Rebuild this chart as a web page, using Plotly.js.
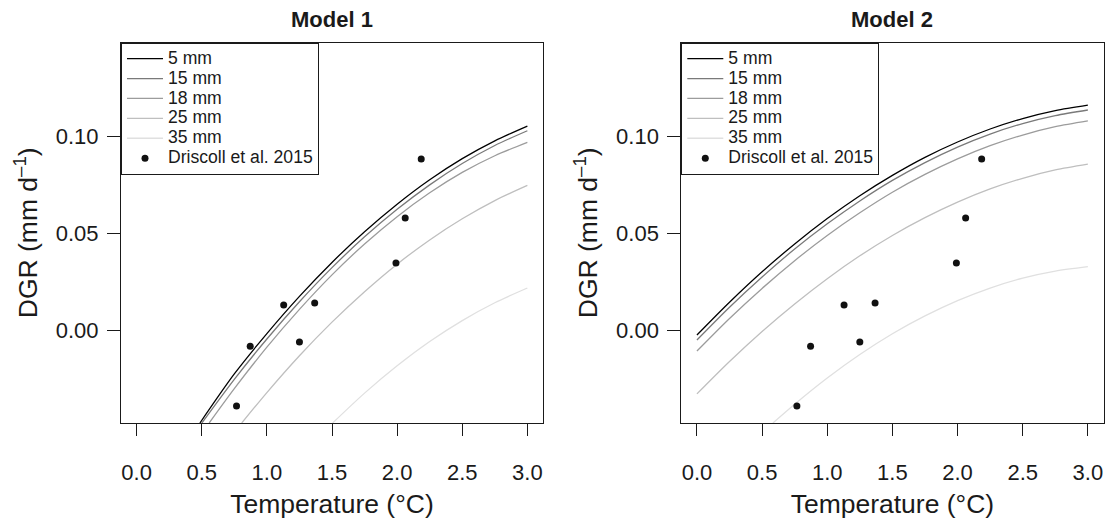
<!DOCTYPE html>
<html>
<head>
<meta charset="utf-8">
<script src="https://cdn.plot.ly/plotly-3.0.1.min.js"></script>
<style>html,body{margin:0;padding:0;background:#fff;}#chart{width:1107px;height:520px;}</style>
</head>
<body>
<div id="chart"></div>
<script>
// ---- data ----
const seriesNames = ['5 mm', '15 mm', '18 mm', '25 mm', '35 mm'];
const seriesColors = ['#000000', '#7a7a7a', '#9c9c9c', '#bfbfbf', '#e0e0e0'];
const obsName = 'Driscoll et al. 2015';

// Model 1 curves (each starts where it enters the plot at the bottom)
const m1_x_5  = [0.486, 0.75, 1.0, 1.25, 1.5, 1.75, 2.0, 2.25, 2.5, 2.75, 3.0];
const m1_y_5  = [-0.0476, -0.0223, -0.0015, 0.0177, 0.0352, 0.0510, 0.0652, 0.0778, 0.0887, 0.0979, 0.1055];
const m1_x_15 = [0.50, 0.75, 1.0, 1.25, 1.5, 1.75, 2.0, 2.25, 2.5, 2.75, 3.0];
const m1_y_15 = [-0.0477, -0.0251, -0.0043, 0.0149, 0.0325, 0.0484, 0.0626, 0.0752, 0.0862, 0.0955, 0.1031];
const m1_x_18 = [0.557, 0.75, 1.0, 1.25, 1.5, 1.75, 2.0, 2.25, 2.5, 2.75, 3.0];
const m1_y_18 = [-0.0476, -0.0299, -0.0085, 0.0110, 0.0288, 0.0447, 0.0588, 0.0711, 0.0816, 0.0902, 0.0971];
const m1_x_25 = [0.807, 1.0, 1.25, 1.5, 1.75, 2.0, 2.25, 2.5, 2.75, 3.0];
const m1_y_25 = [-0.0476, -0.0319, -0.0129, 0.0044, 0.0201, 0.0343, 0.0468, 0.0577, 0.0671, 0.0749];
const m1_x_35 = [1.505, 1.75, 2.0, 2.25, 2.5, 2.75, 3.0];
const m1_y_35 = [-0.0476, -0.0322, -0.0181, -0.0056, 0.0052, 0.0144, 0.0220];

// Model 2 curves
const m2_x    = [0, 0.25, 0.5, 0.75, 1.0, 1.25, 1.5, 1.75, 2.0, 2.25, 2.5, 2.75, 3.0];
const m2_y_5  = [-0.0022, 0.0147, 0.0304, 0.0447, 0.0578, 0.0696, 0.0801, 0.0894, 0.0973, 0.1040, 0.1094, 0.1135, 0.1163];
const m2_y_15 = [-0.0048, 0.0121, 0.0277, 0.0421, 0.0551, 0.0669, 0.0775, 0.0867, 0.0947, 0.1014, 0.1068, 0.1109, 0.1138];
const m2_y_18 = [-0.0105, 0.0063, 0.0218, 0.0361, 0.0491, 0.0608, 0.0714, 0.0806, 0.0886, 0.0954, 0.1009, 0.1052, 0.1082];
const m2_y_25 = [-0.0326, -0.0159, -0.0004, 0.0138, 0.0268, 0.0386, 0.0491, 0.0583, 0.0663, 0.0731, 0.0786, 0.0829, 0.0859];
const m2_x_35 = [0.583, 0.75, 1.0, 1.25, 1.5, 1.75, 2.0, 2.25, 2.5, 2.75, 3.0];
const m2_y_35 = [-0.0476, -0.0379, -0.0244, -0.0123, -0.0016, 0.0076, 0.0155, 0.0220, 0.0271, 0.0307, 0.0330];

// Observations (Driscoll et al. 2015)
const obsTemp = [0.767, 0.872, 1.129, 1.250, 1.367, 1.991, 2.062, 2.185];
const obsDGR  = [-0.0388, -0.0080, 0.0132, -0.0058, 0.0143, 0.0349, 0.0581, 0.0885];

// ticks
const xTickVals = [0, 0.5, 1.0, 1.5, 2.0, 2.5, 3.0];
const xTickText = ['0.0', '0.5', '1.0', '1.5', '2.0', '2.5', '3.0'];
const yTickVals = [0, 0.05, 0.10];
const yTickText = ['0.00', '0.05', '0.10'];
const panelTitles = ['Model 1', 'Model 2'];

// ---- build traces ----
const model1 = [[m1_x_5, m1_y_5], [m1_x_15, m1_y_15], [m1_x_18, m1_y_18], [m1_x_25, m1_y_25], [m1_x_35, m1_y_35]];
const model2 = [[m2_x, m2_y_5], [m2_x, m2_y_15], [m2_x, m2_y_18], [m2_x, m2_y_25], [m2_x_35, m2_y_35]];

const LEG_FS = 17.6;
function legName(s) { return '<span style="font-size:' + LEG_FS + 'px">' + s + '</span>'; }

const traces = [];
[model1, model2].forEach(function (model, p) {
  const xa = p === 0 ? 'x' : 'x2';
  const ya = p === 0 ? 'y' : 'y2';
  const lg = p === 0 ? 'legend' : 'legend2';
  model.forEach(function (xy, i) {
    traces.push({
      type: 'scatter', mode: 'lines', x: xy[0], y: xy[1],
      name: legName(seriesNames[i]), xaxis: xa, yaxis: ya, legend: lg,
      line: {color: seriesColors[i], width: 1.3, shape: 'spline', smoothing: 0.8},
      hoverinfo: 'x+y'
    });
  });
  traces.push({
    type: 'scatter', mode: 'markers', x: obsTemp, y: obsDGR,
    name: legName(obsName), xaxis: xa, yaxis: ya, legend: lg,
    marker: {color: '#111111', size: 7},
    hoverinfo: 'x+y'
  });
});

const W = 1107, H = 520;
const dom1 = [121 / W, 543 / W];
const dom2 = [681.3 / W, 1103.5 / W];
const ydom = [1 - 423 / H, 1 - 42.7 / H];
const INK = '#1a1a1a';
const FONT = 'Liberation Sans, Arial, Helvetica, sans-serif';

function xAxis(dom, yanchor) {
  return {
    domain: dom, anchor: yanchor, range: [-0.12, 3.12],
    tickmode: 'array', tickvals: xTickVals, ticktext: xTickText,
    ticks: 'outside', ticklen: 12, tickwidth: 1, tickcolor: INK,
    ticklabelstandoff: 18,
    showline: true, mirror: true, linecolor: INK, linewidth: 1,
    showgrid: false, zeroline: false,
    tickfont: {size: 22, color: INK, family: FONT},
    title: {text: 'Temperature (°C)', font: {size: 26.5, color: INK, family: FONT}, standoff: 10}
  };
}
function yAxis(dom, xanchor) {
  return {
    domain: dom, anchor: xanchor, range: [-0.0476, 0.1485],
    tickmode: 'array', tickvals: yTickVals, ticktext: yTickText,
    ticks: 'outside', ticklen: 13, tickwidth: 1, tickcolor: INK,
    ticklabelstandoff: 4,
    showline: true, mirror: true, linecolor: INK, linewidth: 1,
    showgrid: false, zeroline: false,
    tickfont: {size: 22, color: INK, family: FONT},
    title: {text: 'DGR (mm d<sup>–1</sup>)', font: {size: 26.5, color: INK, family: FONT}, standoff: 10}
  };
}
function legend(x) {
  return {
    x: x, y: ydom[1], xref: 'paper', yref: 'paper', xanchor: 'left', yanchor: 'top',
    bgcolor: '#ffffff', bordercolor: INK, borderwidth: 1,
    font: {size: 13, color: INK, family: FONT},
    itemwidth: 36, tracegroupgap: 0, traceorder: 'normal'
  };
}

const layout = {
  width: W, height: H,
  margin: {l: 0, r: 0, t: 0, b: 0},
  paper_bgcolor: '#ffffff', plot_bgcolor: '#ffffff',
  font: {family: FONT, color: INK},
  showlegend: true,
  xaxis: xAxis(dom1, 'y'),
  yaxis: yAxis(ydom, 'x'),
  xaxis2: xAxis(dom2, 'y2'),
  yaxis2: yAxis(ydom, 'x2'),
  legend: legend(dom1[0]),
  legend2: legend(dom2[0]),
  annotations: [
    {text: '<b>' + panelTitles[0] + '</b>', x: (dom1[0] + dom1[1]) / 2, y: 1 - 20 / H, xref: 'paper', yref: 'paper',
     xanchor: 'center', yanchor: 'middle', showarrow: false, font: {size: 22, color: INK, family: FONT}},
    {text: '<b>' + panelTitles[1] + '</b>', x: (dom2[0] + dom2[1]) / 2, y: 1 - 20 / H, xref: 'paper', yref: 'paper',
     xanchor: 'center', yanchor: 'middle', showarrow: false, font: {size: 22, color: INK, family: FONT}}
  ]
};

Plotly.newPlot('chart', traces, layout, {displayModeBar: false, staticPlot: true});
</script>
</body>
</html>
